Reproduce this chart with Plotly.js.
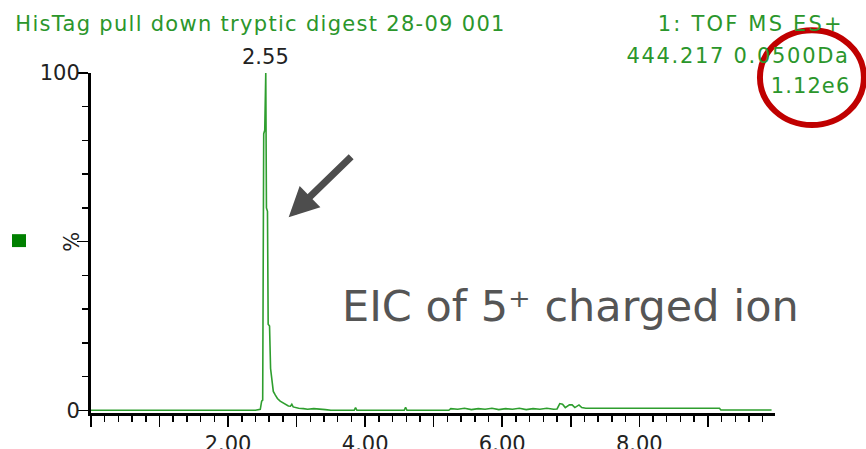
<!DOCTYPE html>
<html>
<head>
<meta charset="utf-8">
<script src="https://cdn.plot.ly/plotly-3.0.1.min.js"></script>
<style>
  html, body { margin: 0; padding: 0; background: #fff; }
  #chart { width: 866px; height: 449px; }
  g.annotation[data-index="0"] text { letter-spacing: 1.3px; }
  g.annotation[data-index="1"] text { letter-spacing: 2.2px; }
  g.annotation[data-index="2"] text { letter-spacing: 1.7px; }
  g.annotation[data-index="3"] text { letter-spacing: 1.1px; }
</style>
</head>
<body>
<div id="chart"></div>
<script>
// Retention time (min) and relative intensity (%) of the extracted ion chromatogram
var timeMin = [0.00, 0.50, 1.00, 1.50, 2.00, 2.40, 2.47, 2.49, 2.505, 2.52, 2.535, 2.55, 2.56, 2.575, 2.585, 2.605, 2.62, 2.64, 2.66, 2.69, 2.72, 2.76, 2.80, 2.84, 2.88, 2.91, 2.93, 2.95, 2.99, 3.03, 3.10, 3.16, 3.25, 3.35, 3.42, 3.50, 3.84, 3.86, 3.88, 4.20, 4.57, 4.59, 4.61, 5.00, 5.22, 5.25, 5.35, 5.45, 5.55, 5.65, 5.75, 5.85, 5.95, 6.05, 6.15, 6.25, 6.35, 6.45, 6.55, 6.65, 6.75, 6.80, 6.84, 6.88, 6.92, 6.98, 7.02, 7.06, 7.12, 7.16, 7.22, 8.00, 8.60, 9.17, 9.19, 9.60, 9.93];
var intensityPct = [0.0, 0.0, 0.0, 0.0, 0.0, 0.0, 0.3, 2.7, 3.0, 82, 83, 100, 60, 59, 25.5, 25, 12.4, 8.6, 5.6, 4.5, 3.5, 2.7, 2.2, 1.6, 1.3, 1.2, 1.8, 1.0, 0.8, 0.6, 0.5, 0.3, 0.5, 0.4, 0.2, 0.0, 0.0, 0.8, 0.0, 0.0, 0.0, 0.9, 0.0, 0.0, 0.0, 0.5, 0.3, 0.6, 0.2, 0.5, 0.3, 0.6, 0.2, 0.5, 0.3, 0.6, 0.2, 0.5, 0.3, 0.6, 0.3, 0.4, 2.0, 1.8, 0.8, 1.6, 1.6, 0.8, 1.6, 0.8, 0.6, 0.6, 0.6, 0.6, 0.1, 0.1, 0.1];

var headerLeft = 'HisTag pull down tryptic digest 28-09 001';
var headerRight = ['1: TOF MS ES+', '444.217 0.0500Da', '1.12e6'];
var peakLabel = '2.55';
var peakTime = 2.55;
var peakValue = 100;
var noteText = 'EIC of 5\u207A charged ion';
var yTitle = '%';

var green = '#2b962b';
var txtFont = 'DejaVu Sans';

var trace = {
  x: timeMin, y: intensityPct, type: 'scatter', mode: 'lines',
  line: { color: '#2e9e2e', width: 1.6 },
  hoverinfo: 'none'
};

var layout = {
  width: 866, height: 449,
  margin: { l: 91, r: 91, t: 73, b: 36, pad: 0 },
  paper_bgcolor: '#fff', plot_bgcolor: '#fff',
  showlegend: false,
  font: { family: txtFont, size: 21, color: '#222' },
  xaxis: {
    range: [0, 9.98], showgrid: false, zeroline: false,
    showline: true, linecolor: '#000', linewidth: 3,
    ticks: 'outside', tickmode: 'linear', tick0: 0, dtick: 1,
    ticklen: 11, tickwidth: 1.5, tickcolor: '#000',
    ticklabelstandoff: -1,
    tickformat: '.2f',
    labelalias: { '0.00': ' ', '1.00': ' ', '3.00': ' ', '5.00': ' ', '7.00': ' ', '9.00': ' ' },
    tickfont: { family: txtFont, size: 21, color: '#222' },
    minor: { ticks: 'outside', dtick: 0.2, tick0: 0, ticklen: 6, tickwidth: 1.5, tickcolor: '#000' },
    fixedrange: true
  },
  yaxis: {
    range: [-0.8, 100], showgrid: false, zeroline: false,
    showline: true, linecolor: '#000', linewidth: 3,
    ticks: 'outside', tickmode: 'linear', tick0: 0, dtick: 50,
    ticklen: 11, tickwidth: 1.5, tickcolor: '#000',
    ticklabelstandoff: -7,
    labelalias: { '50': ' ' },
    tickfont: { family: txtFont, size: 21, color: '#222' },
    minor: { ticks: 'outside', dtick: 10, tick0: 0, ticklen: 6, tickwidth: 1.5, tickcolor: '#000' },
    fixedrange: true
  },
  annotations: [
    { text: headerLeft, xref: 'paper', yref: 'paper', x: 0.2471, y: 1.185, xanchor: 'center', yanchor: 'top', showarrow: false, font: { family: txtFont, size: 21, color: green } },
    { text: headerRight[0], xref: 'paper', yref: 'paper', x: 0.9649, y: 1.185, xanchor: 'center', yanchor: 'top', showarrow: false, font: { family: txtFont, size: 21, color: green } },
    { text: headerRight[1], xref: 'paper', yref: 'paper', x: 0.9459, y: 1.092, xanchor: 'center', yanchor: 'top', showarrow: false, font: { family: txtFont, size: 21, color: green } },
    { text: headerRight[2], xref: 'paper', yref: 'paper', x: 1.0512, y: 1.002, xanchor: 'center', yanchor: 'top', showarrow: false, font: { family: txtFont, size: 21, color: green } },
    { text: peakLabel, xref: 'x', yref: 'y', x: peakTime, y: peakValue, xanchor: 'center', yanchor: 'bottom', yshift: 2, showarrow: false, font: { family: txtFont, size: 21, color: '#222' } },
    { text: yTitle, xref: 'paper', yref: 'paper', x: -0.028, y: 0.503, xanchor: 'center', yanchor: 'middle', textangle: -90, showarrow: false, font: { family: txtFont, size: 21, color: '#222' } },
    { text: noteText, xref: 'paper', yref: 'paper', x: 0.364, y: 0.234, xanchor: 'left', yanchor: 'bottom', showarrow: false, font: { family: txtFont, size: 43, color: '#555555' } },
    { text: '', xref: 'x', yref: 'y', x: 2.884, y: 57.2, ax: 64, ay: -62, showarrow: true, arrowhead: 2, arrowsize: 0.85, arrowwidth: 7, arrowcolor: '#4d4d4d' }
  ],
  shapes: [
    { type: 'rect', xref: 'paper', yref: 'paper', x0: -0.1155, x1: -0.095, y0: 0.488, y1: 0.526, fillcolor: '#008000', line: { width: 0 } },
    { type: 'circle', xref: 'paper', yref: 'paper', x0: 0.978, x1: 1.130, y0: 0.847, y1: 1.126, line: { color: '#c00000', width: 6 }, fillcolor: 'rgba(0,0,0,0)', layer: 'above' }
  ]
};

Plotly.newPlot('chart', [trace], layout, { displayModeBar: false, staticPlot: true });
</script>
</body>
</html>
